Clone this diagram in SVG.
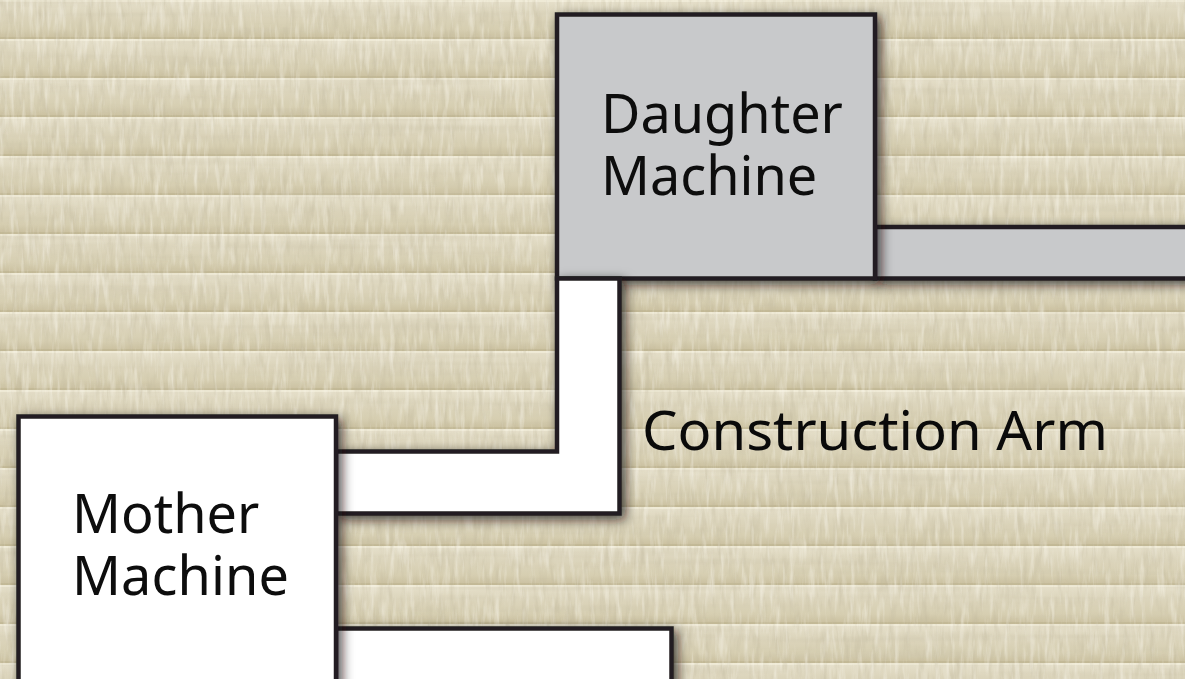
<svg xmlns="http://www.w3.org/2000/svg" width="1185" height="679" viewBox="0 0 1185 679">
  <defs>
    <!-- one band of the paper background: bright seam on top, shading towards the bottom -->
    <linearGradient id="bandShade" x1="0" y1="0" x2="0" y2="1">
      <stop offset="0" stop-color="#e6e0cb"/>
      <stop offset="0.35" stop-color="#dcd5bc"/>
      <stop offset="0.75" stop-color="#d6ceb1"/>
      <stop offset="1" stop-color="#c9bf9e"/>
    </linearGradient>
    <pattern id="bands" patternUnits="userSpaceOnUse" width="1185" height="39">
      <rect width="1185" height="39" fill="url(#bandShade)"/>
      <rect y="0" width="1185" height="2" fill="#f1ecd8" opacity="0.85"/>
      <rect y="37" width="1185" height="2" fill="#bcb28e" opacity="0.5"/>
    </pattern>
    <!-- fibrous grain laid over the bands -->
    <filter id="grainDark" x="0" y="0" width="100%" height="100%">
      <feTurbulence type="fractalNoise" baseFrequency="0.18 0.035" numOctaves="3" seed="7"/>
      <feColorMatrix type="matrix" values="0 0 0 0 0.52  0 0 0 0 0.47  0 0 0 0 0.33  2.4 0 0 0 -1.15"/>
    </filter>
    <filter id="grainLight" x="0" y="0" width="100%" height="100%">
      <feTurbulence type="fractalNoise" baseFrequency="0.2 0.03" numOctaves="3" seed="21"/>
      <feColorMatrix type="matrix" values="0 0 0 0 0.98  0 0 0 0 0.96  0 0 0 0 0.89  2.4 0 0 0 -1.15"/>
    </filter>
    <filter id="streaks" x="0" y="0" width="100%" height="100%">
      <feTurbulence type="fractalNoise" baseFrequency="0.004 0.12" numOctaves="2" seed="4"/>
      <feColorMatrix type="matrix" values="0 0 0 0 0.62  0 0 0 0 0.57  0 0 0 0 0.42  2 0 0 0 -0.95"/>
    </filter>
    <filter id="shadow" x="-10%" y="-10%" width="130%" height="130%">
      <feDropShadow dx="4" dy="4" stdDeviation="6" flood-color="#1a160e" flood-opacity="0.75"/>
    </filter>
    <style>
      .box { stroke: #231f20; stroke-width: 4.5; stroke-linejoin: miter; }
      .white { fill: #ffffff; }
      .grey { fill: #c8c9cb; }
      .label { font-family: "Noto Sans", "Liberation Sans", sans-serif; font-size: 54px; fill: #0a0a0a; }
    </style>
  </defs>

  <!-- background -->
  <rect width="1185" height="679" fill="url(#bands)"/>
  <rect width="1185" height="679" filter="url(#streaks)" opacity="0.5"/>
  <rect width="1185" height="679" filter="url(#grainDark)" opacity="0.4"/>
  <rect width="1185" height="679" filter="url(#grainLight)" opacity="0.45"/>

  <!-- links between the machines -->
  <g id="connectors" filter="url(#shadow)">
    <rect id="daughter-arm" class="box grey" x="875" y="227" width="330" height="51.5"/>
    <rect id="mother-output" class="box white" x="336" y="628.5" width="335.5" height="80"/>
  </g>

  <g id="daughter-machine" filter="url(#shadow)">
    <rect class="box grey" x="557" y="14.5" width="318" height="264"/>
    <text class="label"><tspan x="601" y="133">Daughter</tspan><tspan x="601" y="195">Machine</tspan></text>
  </g>

  <g id="construction-arm">
    <path class="box white" filter="url(#shadow)" d="M336,451.5 H557 V278.5 H619.5 V513.5 H336 Z"/>
    <text class="label" x="642" y="450" textLength="466" lengthAdjust="spacingAndGlyphs">Construction Arm</text>
  </g>

  <g id="mother-machine" filter="url(#shadow)">
    <rect class="box white" x="18.5" y="416.5" width="317.5" height="300"/>
    <text class="label"><tspan x="72" y="533">Mother</tspan><tspan x="72" y="595" textLength="217">Machine</tspan></text>
  </g>
</svg>
